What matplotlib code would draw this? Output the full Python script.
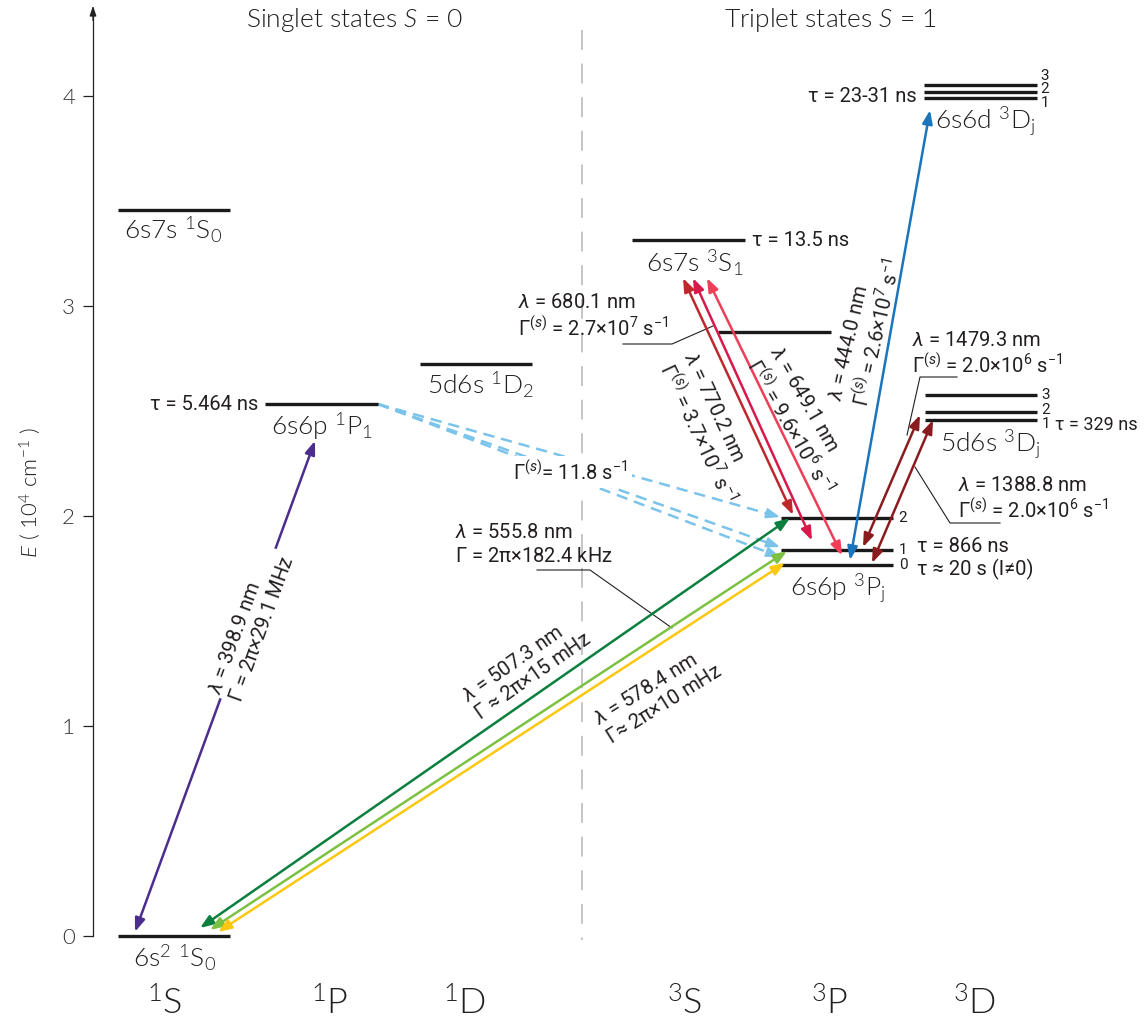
import matplotlib
matplotlib.use("Agg")
import matplotlib.pyplot as plt
from matplotlib.patches import FancyArrowPatch
import numpy as np

plt.rcParams['mathtext.fontset'] = 'custom'
plt.rcParams['mathtext.rm'] = 'Roboto'
plt.rcParams['mathtext.it'] = 'Roboto:italic'
plt.rcParams['mathtext.bf'] = 'Roboto:bold'
plt.rcParams['mathtext.sf'] = 'Lato:style=italic:weight=300'

# ---------------- data (energies in 10^4 cm^-1) ----------------
column_labels = [r"$\mathregular{^1S}$", r"$\mathregular{^1P}$", r"$\mathregular{^1D}$",
                 r"$\mathregular{^3S}$", r"$\mathregular{^3P}$", r"$\mathregular{^3D}$"]
yticks = [0, 1, 2, 3, 4]

E_6s2_1S0 = 0.0
E_6s7s_1S0 = 3.457
E_6s6p_1P1 = 2.533
E_5d6s_1D2 = 2.724
E_6s7s_3S1 = 3.314
E_6s6p_3P = [1.767, 1.838, 1.990]      # J = 0, 1, 2
E_5d6s_3D = [2.457, 2.497, 2.576]      # J = 1, 2, 3
E_6s6d_3D = [3.992, 4.018, 4.052]      # J = 1, 2, 3
E_extra = 2.876

level_names = {
    "6s2_1S0": r"6s$\mathregular{^2}$ $\mathregular{^1S_0}$",
    "6s7s_1S0": r"6s7s $\mathregular{^1S_0}$",
    "6s6p_1P1": r"6s6p $\mathregular{^1P_1}$",
    "5d6s_1D2": r"5d6s $\mathregular{^1D_2}$",
    "6s7s_3S1": r"6s7s $\mathregular{^3S_1}$",
    "6s6p_3P": r"6s6p $\mathregular{^3P_j}$",
    "5d6s_3D": r"5d6s $\mathregular{^3D_j}$",
    "6s6d_3D": r"6s6d $\mathregular{^3D_j}$",
}

lifetimes = ["τ = 23-31 ns", "τ = 13.5 ns", "τ = 5.464 ns", "τ = 866 ns",
             "τ ≈ 20 s (I≠0)", "τ = 329 ns"]

wavelengths = ["398.9", "507.3", "555.8", "578.4", "770.2", "680.1", "649.1",
               "444.0", "1479.3", "1388.8"]
linewidths_text = [r"$\mathit{\Gamma}$ = 2π×29.1 MHz", r"$\mathit{\Gamma}$ ≈ 2π×15 mHz",
                   r"$\mathit{\Gamma}$ = 2π×182.4 kHz", r"$\mathit{\Gamma}$≈ 2π×10 mHz"]
scattering_rates = ["3.7×10^7", "2.7×10^7", "9.6×10^6", "2.6×10^7", "2.0×10^6", "2.0×10^6"]
decay_rate_1P1_3P = "11.8"

colors = {"398.9": "#4b2d8e", "507.3": "#0b7f3e", "555.8": "#7cc142", "578.4": "#fcc70f",
          "770.2": "#c0272d", "680.1": "#d7194c", "649.1": "#ee3e58", "444.0": "#1b75bc",
          "1479.3": "#8a1c1f", "1388.8": "#8a1c1f"}
dash_color = "#7ac3ea"
TXT = "#231f20"

# ---------------- figure ----------------
W, H = 1147, 1033
Y0, SC = 936, 210
fig = plt.figure(figsize=(W / 100, H / 100), dpi=100)
ax = fig.add_axes([0, 0, 1, 1])
ax.set_xlim(0, W)
ax.set_ylim((Y0 - H) / SC, Y0 / SC)


def py(p):
    return (Y0 - p) / SC


LF = dict(family=['Lato', 'DejaVu Sans'], weight=300, color=TXT)
AF = dict(family=['Roboto', 'DejaVu Sans'], color=TXT)
AFS = 14.5

# axis
for s in ['top', 'right', 'bottom']:
    ax.spines[s].set_visible(False)
ax.spines['left'].set_position(('data', 93))
ax.spines['left'].set_bounds(0, 4.38)
ax.spines['left'].set_color('#222222')
ax.spines['left'].set_linewidth(0.9)
ax.set_xticks([])
ax.set_yticks(yticks)
ax.set_yticklabels([str(t) for t in yticks])
ax.tick_params(axis='y', direction='out', length=7, width=0.9, colors='#222222',
               labelsize=16, pad=6)
for lb in ax.get_yticklabels():
    lb.set_fontfamily(['Lato', 'DejaVu Sans'])
    lb.set_fontweight(300)
    lb.set_color('#333333')
ax.annotate("", xy=(93, 4.43), xytext=(93, 4.36),
            arrowprops=dict(arrowstyle='-|>,head_length=0.6,head_width=0.2', color='#222222',
                            lw=0.9, shrinkA=0, shrinkB=0, mutation_scale=10))
ax.text(30, py(492), r"$\mathsf{E}$ ( 10$\mathregular{^4}$ cm$\mathregular{^{-1}}$ )", rotation=90,
        ha='center', va='center', fontsize=16, **LF)

# titles
ax.text(355, py(20), r"Singlet states $\mathsf{S}$ = 0", ha='center', va='center', fontsize=19, **LF)
ax.text(830, py(20), r"Triplet states $\mathsf{S}$ = 1", ha='center', va='center', fontsize=19, **LF)

# divider
ax.plot([582, 582], [py(30), py(940)], color='#b5b5b5', lw=1.1, dashes=(13, 9), zorder=1)

# column labels
for xc, lab in zip([165, 330, 465, 685, 830, 975], column_labels):
    ax.text(xc, py(1003), lab, ha='center', va='center', fontsize=26, **LF)

# levels
LW = 2.4
LC = "#1a1a1a"
ax.hlines(E_6s2_1S0, 118, 230, lw=LW, color=LC, zorder=3)
ax.hlines(E_6s7s_1S0, 118, 230, lw=LW, color=LC, zorder=3)
ax.hlines(E_6s6p_1P1, 265, 378, lw=LW, color=LC, zorder=3)
ax.hlines(E_5d6s_1D2, 420, 532, lw=LW, color=LC, zorder=3)
ax.hlines(E_6s7s_3S1, 632, 745, lw=LW, color=LC, zorder=3)
ax.hlines(E_extra, 718, 831, lw=LW, color=LC, zorder=3)
ax.hlines(E_6s6p_3P, 781, 893, lw=LW, color=LC, zorder=3)
ax.hlines(E_5d6s_3D, 925, 1037, lw=LW, color=LC, zorder=3)
ax.hlines(E_6s6d_3D, 924, 1037, lw=LW, color=LC, zorder=3)

# level names
LFS = 19
ax.text(175, py(958), level_names["6s2_1S0"], ha='center', va='center', fontsize=LFS, **LF)
ax.text(173, py(230), level_names["6s7s_1S0"], ha='center', va='center', fontsize=LFS, **LF)
ax.text(322, py(426), level_names["6s6p_1P1"], ha='center', va='center', fontsize=LFS, **LF)
ax.text(480, py(385), level_names["5d6s_1D2"], ha='center', va='center', fontsize=LFS, **LF)
ax.text(695, py(263), level_names["6s7s_3S1"], ha='center', va='center', fontsize=LFS, **LF)
ax.text(838, py(588), level_names["6s6p_3P"], ha='center', va='center', fontsize=LFS, **LF)
ax.text(990, py(444), level_names["5d6s_3D"], ha='center', va='center', fontsize=LFS, **LF)
ax.text(985, py(121), level_names["6s6d_3D"], ha='center', va='center', fontsize=LFS, **LF)

# J labels
for e, j in zip(E_6s6p_3P, ["0", "1", "2"]):
    ax.text(903, e, j, ha='center', va='center', fontsize=11, **AF)
for p, j in zip([424, 410, 395], ["1", "2", "3"]):
    ax.text(1046, py(p), j, ha='center', va='center', fontsize=11, **AF)
for p, j in zip([103, 89, 76], ["1", "2", "3"]):
    ax.text(1045, py(p), j, ha='center', va='center', fontsize=11, **AF)

# lifetimes
ax.text(917, py(96), lifetimes[0], ha='right', va='center', fontsize=AFS, **AF)
ax.text(752, py(240), lifetimes[1], ha='left', va='center', fontsize=AFS, **AF)
ax.text(258, py(404), lifetimes[2], ha='right', va='center', fontsize=AFS, **AF)
ax.text(917, py(546), lifetimes[3], ha='left', va='center', fontsize=AFS, **AF)
ax.text(917, py(569), lifetimes[4], ha='left', va='center', fontsize=AFS, **AF)
ax.text(1055, py(425), lifetimes[5], ha='left', va='center', fontsize=13, **AF)


# arrows
def darrow(x0, y0, x1, y1, color, style='<|-|>'):
    a = FancyArrowPatch((x0, y0), (x1, y1),
                        arrowstyle=style + ',head_length=0.8,head_width=0.3',
                        mutation_scale=10, color=color, lw=1.8, shrinkA=0, shrinkB=0, zorder=4)
    ax.add_patch(a)


darrow(135, E_6s2_1S0 + 0.02, 315, E_6s6p_1P1 - 0.175, colors["398.9"])
darrow(200, E_6s2_1S0 + 0.038, 790, E_6s6p_3P[2], colors["507.3"])
darrow(210, E_6s2_1S0 + 0.029, 787, E_6s6p_3P[1] - 0.005, colors["555.8"])
darrow(218, E_6s2_1S0 + 0.019, 785, E_6s6p_3P[0] + 0.01, colors["578.4"])
darrow(683, E_6s7s_3S1 - 0.181, 793, E_6s6p_3P[2] + 0.015, colors["770.2"])
darrow(693, E_6s7s_3S1 - 0.181, 812, E_6s6p_3P[1] + 0.045, colors["680.1"])
darrow(707, E_6s7s_3S1 - 0.181, 842, E_6s6p_3P[0] + 0.045, colors["649.1"])
darrow(850, E_6s6p_3P[1] - 0.048, 930, E_6s6d_3D[0] - 0.059, colors["444.0"])
darrow(863, E_6s6p_3P[1] + 0.014, 920, E_5d6s_3D[1] - 0.016, colors["1479.3"])
darrow(872, E_6s6p_3P[0] + 0.009, 933, E_5d6s_3D[0], colors["1388.8"])

# dashed decays 1P1 -> 3P
for tgt in [E_6s6p_3P[2] + 0.005, E_6s6p_3P[1] + 0.014, E_6s6p_3P[0] + 0.038]:
    x0, y0, x1, y1 = 378, E_6s6p_1P1, 780, tgt
    d = np.array([x1 - x0, (y1 - y0) * SC])
    d = d / np.hypot(*d)
    ax.plot([x0, x1 - 6 * d[0]], [y0, y1 - 6 * d[1] / SC], color=dash_color, lw=1.8,
            dashes=(4.5, 2.8), zorder=2)
    ax.add_patch(FancyArrowPatch((x1 - 12 * d[0], y1 - 12 * d[1] / SC), (x1, y1),
                                 arrowstyle='-|>,head_length=0.8,head_width=0.3',
                                 mutation_scale=10, color=dash_color, lw=1.5,
                                 shrinkA=0, shrinkB=0, zorder=2))

WB = dict(facecolor='white', edgecolor='none', pad=2)


def lam(w):
    return r"$\mathit{\lambda}$ = " + w + " nm"


def gs(v):
    m, e = v.split("^")
    return r"$\mathit{\Gamma^{(s)}}$ = " + m + "$^{" + e + "}$ s$^{-1}$"


# rotated labels
ax.text(252, py(625), lam(wavelengths[0]) + "\n" + linewidths_text[0], rotation=70,
        rotation_mode='anchor', ha='center', va='center', multialignment='left', fontsize=AFS,
        bbox=WB, zorder=5, **AF)
ax.text(527, py(667), lam(wavelengths[1]) + "\n" + linewidths_text[1], rotation=35,
        rotation_mode='anchor', ha='center', va='center', multialignment='left', fontsize=AFS,
        zorder=5, **AF)
ax.text(658, py(695), lam(wavelengths[3]) + "\n" + linewidths_text[3], rotation=32,
        rotation_mode='anchor', ha='center', va='center', multialignment='left', fontsize=AFS,
        zorder=5, **AF)
ax.text(708, py(428), lam(wavelengths[4]) + "\n" + gs(scattering_rates[0]), rotation=-65,
        rotation_mode='anchor', ha='center', va='center', multialignment='left', fontsize=AFS,
        zorder=5, **AF)
ax.text(800, py(420), lam(wavelengths[6]) + "\n" + gs(scattering_rates[2]), rotation=-60,
        rotation_mode='anchor', ha='center', va='center', multialignment='left', fontsize=AFS,
        zorder=5, **AF)
ax.text(866, py(330), lam(wavelengths[7]) + "\n" + gs(scattering_rates[3]), rotation=77,
        rotation_mode='anchor', ha='center', va='center', multialignment='left', fontsize=AFS,
        zorder=5, **AF)

# horizontal labels with leaders
ax.text(518, py(302), lam(wavelengths[5]), ha='left', va='center', fontsize=AFS, **AF)
ax.text(518, py(328), gs(scattering_rates[1]), ha='left', va='center', fontsize=AFS, **AF)
ax.plot([623, 672, 713], [py(344), py(344), py(326)], color=TXT, lw=0.8, zorder=3)

ax.text(455, py(532), lam(wavelengths[2]), ha='left', va='center', fontsize=AFS, **AF)
ax.text(455, py(557), linewidths_text[2], ha='left', va='center', fontsize=AFS, **AF)
ax.plot([537, 590, 672], [py(570), py(570), py(628)], color=TXT, lw=0.8, zorder=3)

ax.text(912, py(340), lam(wavelengths[8]), ha='left', va='center', fontsize=AFS, **AF)
ax.text(912, py(365), gs(scattering_rates[4]), ha='left', va='center', fontsize=AFS, **AF)
ax.plot([957, 920, 907], [py(377), py(377), py(435)], color=TXT, lw=0.8, zorder=3)

ax.text(958, py(485), lam(wavelengths[9]), ha='left', va='center', fontsize=AFS, **AF)
ax.text(958, py(510), gs(scattering_rates[5]), ha='left', va='center', fontsize=AFS, **AF)
ax.plot([1000, 950, 915], [py(523), py(523), py(467)], color=TXT, lw=0.8, zorder=3)

ax.text(570, py(472), r"$\mathit{\Gamma^{(s)}}$= " + decay_rate_1P1_3P + " s$^{-1}$", ha='center',
        va='center', fontsize=AFS, bbox=dict(facecolor='white', edgecolor='none', pad=3),
        zorder=5, **AF)

fig.savefig("out.png", dpi=100)
